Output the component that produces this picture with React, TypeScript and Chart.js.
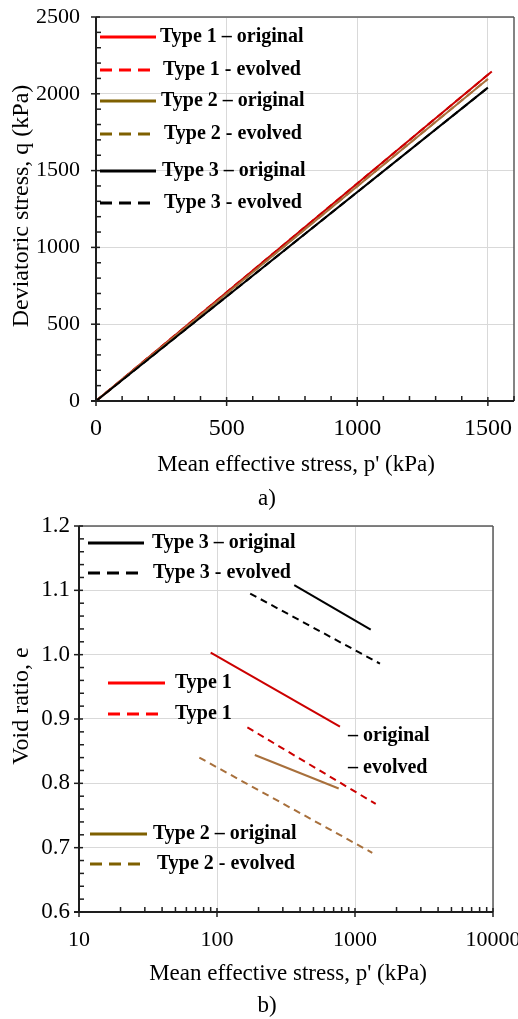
import { useEffect, useRef } from 'react';
import { Chart, registerables } from 'chart.js';
Chart.register(...registerables);

const FONT = '"Liberation Serif", "Times New Roman", serif';

// ---------- Chart a) q vs p' ----------
const aP_type1 = [0, 1515];
const aQ_type1 = [0, 2145];
const aP_type2 = [0, 1500];
const aQ_type2 = [0, 2097];
const aP_type3 = [0, 1500];
const aQ_type3 = [0, 2040];
const aXTicks = [0, 500, 1000, 1500];
const aXMinor = [100, 200, 300, 400, 600, 700, 800, 900, 1100, 1200, 1300, 1400, 1600];
const aYTicks = [0, 500, 1000, 1500, 2000, 2500];
const aYMinor = [100, 200, 300, 400, 600, 700, 800, 900, 1100, 1200, 1300, 1400, 1600, 1700, 1800, 1900, 2100, 2200, 2300, 2400];
const aLegend = ['Type 1 – original', 'Type 1 - evolved', 'Type 2 – original', 'Type 2 - evolved', 'Type 3 – original', 'Type 3 - evolved'];

// ---------- Chart b) e vs log p' ----------
const bP_type1Orig = [90, 778];
const bE_type1Orig = [1.003, 0.888];
const bP_type1Evol = [166, 1413];
const bE_type1Evol = [0.887, 0.768];
const bP_type2Orig = [188, 762];
const bE_type2Orig = [0.844, 0.792];
const bP_type2Evol = [74.5, 1334];
const bE_type2Evol = [0.84, 0.692];
const bP_type3Orig = [363, 1300];
const bE_type3Orig = [1.108, 1.039];
const bP_type3Evol = [174, 1517];
const bE_type3Evol = [1.095, 0.986];
const bXTicks = [10, 100, 1000, 10000];
const bXMinor = [20, 30, 40, 50, 60, 70, 80, 90, 200, 300, 400, 500, 600, 700, 800, 900, 2000, 3000, 4000, 5000, 6000, 7000, 8000, 9000];
const bYTicks = [0.6, 0.7, 0.8, 0.9, 1.0, 1.1, 1.2];
const bYMinor = [0.62, 0.64, 0.66, 0.68, 0.72, 0.74, 0.76, 0.78, 0.82, 0.84, 0.86, 0.88, 0.92, 0.94, 0.96, 0.98, 1.02, 1.04, 1.06, 1.08, 1.12, 1.14, 1.16, 1.18];

const RED_LINE = '#cc0000';
const BROWN_LINE = '#a8703c';
const RED_LEG = '#ff0000';
const BROWN_LEG = '#7f6000';

const pts = (xs: number[], ys: number[]) => xs.map((x, i) => ({ x, y: ys[i] }));

const line = (label: string, xs: number[], ys: number[], color: string, dashed: boolean) => ({
  label,
  data: pts(xs, ys),
  showLine: true,
  borderColor: color,
  backgroundColor: color,
  borderWidth: 2,
  borderDash: dashed ? [7, 5] : [],
  pointRadius: 0,
  pointHoverRadius: 0,
  fill: false,
});

type LegItem = { text: string; color: string; dash: number[]; x1: number; x2: number; tx: number; y: number };
type Title = { text: string; x: number; y: number; size: number; rot?: boolean };

function framePlugin(o: {
  xMajor: number[]; xMinor: number[]; yMajor: number[]; yMinor: number[];
  legend: LegItem[]; extraText: { text: string; x: number; y: number }[]; titles: Title[];
}) {
  return {
    id: 'frame',
    afterDraw(chart: any) {
      const { ctx, chartArea: ca, scales } = chart;
      const xs = scales.x, ys = scales.y;
      ctx.save();
      const seg = (x1: number, y1: number, x2: number, y2: number) => {
        ctx.beginPath(); ctx.moveTo(x1, y1); ctx.lineTo(x2, y2); ctx.stroke();
      };
      ctx.setLineDash([]);
      ctx.strokeStyle = '#5a5a5a';
      ctx.lineWidth = 1.5;
      seg(ca.left, ca.top, ca.right, ca.top);
      seg(ca.right, ca.top, ca.right, ca.bottom);
      ctx.strokeStyle = '#1e1e1e';
      ctx.lineWidth = 2;
      seg(ca.left, ca.top, ca.left, ca.bottom);
      seg(ca.left - 5, ca.bottom, ca.right, ca.bottom);
      ctx.lineWidth = 1.5;
      for (const v of o.xMajor) { const p = xs.getPixelForValue(v); seg(p, ca.bottom - 4, p, ca.bottom + 5); }
      for (const v of o.xMinor) { const p = xs.getPixelForValue(v); seg(p, ca.bottom - 5, p, ca.bottom); }
      for (const v of o.yMajor) { const p = ys.getPixelForValue(v); seg(ca.left - 5, p, ca.left + 4, p); }
      for (const v of o.yMinor) { const p = ys.getPixelForValue(v); seg(ca.left, p, ca.left + 5, p); }
      ctx.font = `bold 20px ${FONT}`;
      ctx.textBaseline = 'middle';
      ctx.textAlign = 'left';
      for (const it of o.legend) {
        ctx.strokeStyle = it.color;
        ctx.lineWidth = 3;
        ctx.setLineDash(it.dash);
        seg(it.x1, it.y, it.x2, it.y);
        ctx.setLineDash([]);
        ctx.fillStyle = '#000';
        ctx.fillText(it.text, it.tx, it.y);
      }
      for (const t of o.extraText) {
        ctx.fillStyle = '#000';
        ctx.fillText(t.text, t.x, t.y);
      }
      for (const t of o.titles) {
        ctx.font = `${t.size}px ${FONT}`;
        ctx.textAlign = 'center';
        ctx.fillStyle = '#000';
        if (t.rot) {
          ctx.save();
          ctx.translate(t.x, t.y);
          ctx.rotate(-Math.PI / 2);
          ctx.fillText(t.text, 0, 0);
          ctx.restore();
        } else {
          ctx.fillText(t.text, t.x, t.y);
        }
      }
      ctx.restore();
    },
  };
}

const zeroPad = (s: any) => { s.paddingTop = 0; s.paddingBottom = 0; s.paddingLeft = 0; s.paddingRight = 0; };

function configA() {
  const solid: number[] = [];
  const dash = [12, 7];
  const legend: LegItem[] = [
    { text: aLegend[0], color: RED_LEG, dash: solid, x1: 100, x2: 156, tx: 160, y: 37 },
    { text: aLegend[1], color: RED_LEG, dash, x1: 100, x2: 156, tx: 163, y: 70 },
    { text: aLegend[2], color: BROWN_LEG, dash: solid, x1: 100, x2: 156, tx: 161, y: 101 },
    { text: aLegend[3], color: BROWN_LEG, dash, x1: 100, x2: 156, tx: 164, y: 134 },
    { text: aLegend[4], color: '#000', dash: solid, x1: 100, x2: 156, tx: 162, y: 171 },
    { text: aLegend[5], color: '#000', dash, x1: 100, x2: 156, tx: 164, y: 203 },
  ];
  return {
    type: 'scatter',
    data: {
      datasets: [
        line(aLegend[4], aP_type3, aQ_type3, '#000', false),
        line(aLegend[2], aP_type2, aQ_type2, BROWN_LINE, false),
        line(aLegend[0], aP_type1, aQ_type1, RED_LINE, false),
        line(aLegend[5], aP_type3, aQ_type3, '#000', true),
        line(aLegend[3], aP_type2, aQ_type2, BROWN_LINE, true),
        line(aLegend[1], aP_type1, aQ_type1, RED_LINE, true),
      ],
    },
    options: {
      animation: false,
      responsive: false,
      devicePixelRatio: 1,
      layout: { padding: { top: 17, right: 4, left: 0, bottom: 0 } },
      plugins: { legend: { display: false }, tooltip: { enabled: false } },
      scales: {
        x: {
          type: 'linear', min: 0, max: 1600,
          afterBuildTicks: (s: any) => { s.ticks = aXTicks.map((v) => ({ value: v })); },
          afterFit: (s: any) => { s.height = 109; zeroPad(s); },
          ticks: { font: { family: FONT, size: 24 }, color: '#000', padding: 13, maxRotation: 0, autoSkip: false, callback: (v: any) => String(v) },
          grid: { color: '#d9d9d9', lineWidth: 1, drawTicks: false },
          border: { display: false },
        },
        y: {
          type: 'linear', min: 0, max: 2500,
          afterBuildTicks: (s: any) => { s.ticks = aYTicks.map((v) => ({ value: v })); },
          afterFit: (s: any) => { s.width = 96; zeroPad(s); },
          ticks: { font: { family: FONT, size: 22 }, color: '#000', padding: 16, autoSkip: false, callback: (v: any) => String(v) },
          grid: { color: '#d9d9d9', lineWidth: 1, drawTicks: false },
          border: { display: false },
        },
      },
    },
    plugins: [framePlugin({
      xMajor: aXTicks, xMinor: aXMinor, yMajor: aYTicks, yMinor: aYMinor, legend,
      extraText: [],
      titles: [
        { text: 'Deviatoric stress, q (kPa)', x: 22, y: 206, size: 24, rot: true },
        { text: "Mean effective stress, p' (kPa)", x: 296, y: 465, size: 23 },
        { text: 'a)', x: 267, y: 499, size: 23 },
      ],
    })],
  };
}

function configB() {
  const solid: number[] = [];
  const dash = [12, 7];
  const off = 510;
  const legend: LegItem[] = [
    { text: 'Type 3 – original', color: '#000', dash: solid, x1: 88, x2: 144, tx: 152, y: 543 - off },
    { text: 'Type 3 - evolved', color: '#000', dash, x1: 88, x2: 144, tx: 153, y: 573 - off },
    { text: 'Type 1', color: RED_LEG, dash: solid, x1: 108, x2: 165, tx: 175, y: 683 - off },
    { text: 'Type 1', color: RED_LEG, dash, x1: 108, x2: 165, tx: 175, y: 714 - off },
    { text: 'Type 2 – original', color: BROWN_LEG, dash: solid, x1: 90, x2: 147, tx: 153, y: 834 - off },
    { text: 'Type 2 - evolved', color: BROWN_LEG, dash, x1: 90, x2: 147, tx: 157, y: 864 - off },
  ];
  return {
    type: 'scatter',
    data: {
      datasets: [
        line('Type 3 – original', bP_type3Orig, bE_type3Orig, '#000', false),
        line('Type 3 - evolved', bP_type3Evol, bE_type3Evol, '#000', true),
        line('Type 1 – original', bP_type1Orig, bE_type1Orig, RED_LINE, false),
        line('Type 1 - evolved', bP_type1Evol, bE_type1Evol, RED_LINE, true),
        line('Type 2 – original', bP_type2Orig, bE_type2Orig, BROWN_LINE, false),
        line('Type 2 - evolved', bP_type2Evol, bE_type2Evol, BROWN_LINE, true),
      ],
    },
    options: {
      animation: false,
      responsive: false,
      devicePixelRatio: 1,
      layout: { padding: { top: 16, right: 25, left: 0, bottom: 0 } },
      plugins: { legend: { display: false }, tooltip: { enabled: false } },
      scales: {
        x: {
          type: 'logarithmic', min: 10, max: 10000,
          afterBuildTicks: (s: any) => { s.ticks = bXTicks.map((v) => ({ value: v })); },
          afterFit: (s: any) => { s.height = 107; zeroPad(s); },
          ticks: { font: { family: FONT, size: 22 }, color: '#000', padding: 15, maxRotation: 0, autoSkip: false, callback: (v: any) => String(v) },
          grid: { color: '#d9d9d9', lineWidth: 1, drawTicks: false },
          border: { display: false },
        },
        y: {
          type: 'linear', min: 0.6, max: 1.2,
          afterBuildTicks: (s: any) => { s.ticks = bYTicks.map((v) => ({ value: v })); },
          afterFit: (s: any) => { s.width = 79; zeroPad(s); },
          ticks: { font: { family: FONT, size: 23 }, color: '#000', padding: 9, autoSkip: false, callback: (v: any) => Number(v).toFixed(1) },
          grid: { color: '#d9d9d9', lineWidth: 1, drawTicks: false },
          border: { display: false },
        },
      },
    },
    plugins: [framePlugin({
      xMajor: bXTicks, xMinor: bXMinor, yMajor: bYTicks, yMinor: bYMinor, legend,
      extraText: [
        { text: '– original', x: 348, y: 736 - off },
        { text: '– evolved', x: 348, y: 768 - off },
      ],
      titles: [
        { text: 'Void ratio, e', x: 22, y: 706 - off, size: 24, rot: true },
        { text: "Mean effective stress, p' (kPa)", x: 288, y: 974 - off, size: 23 },
        { text: 'b)', x: 267, y: 1006 - off, size: 23 },
      ],
    })],
  };
}

function ChartCanvas({ make, top, height }: { make: () => any; top: number; height: number }) {
  const ref = useRef<HTMLCanvasElement | null>(null);
  useEffect(() => {
    const chart = new Chart(ref.current as HTMLCanvasElement, make());
    return () => chart.destroy();
  }, []);
  return (
    <canvas
      ref={ref}
      width={518}
      height={height}
      style={{ position: 'absolute', left: 0, top, width: 518, height, display: 'block' }}
    />
  );
}

export default function App() {
  return (
    <div style={{ position: 'fixed', left: 0, top: 0, width: 518, height: 1019, background: '#fff', overflow: 'hidden' }}>
      <ChartCanvas make={configA} top={0} height={510} />
      <ChartCanvas make={configB} top={510} height={509} />
    </div>
  );
}
